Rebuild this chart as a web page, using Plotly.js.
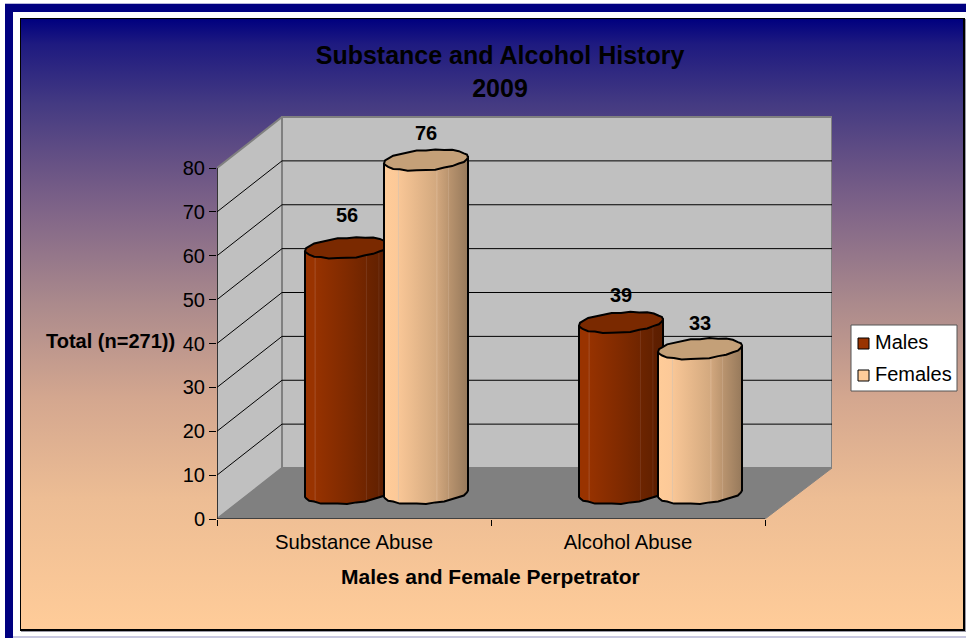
<!DOCTYPE html>
<html><head><meta charset="utf-8">
<script src="https://cdn.plot.ly/plotly-3.0.1.min.js"></script>
<style>
html,body{margin:0;padding:0;background:#fff;overflow:hidden;width:966px;height:638px}
#navyTop{position:absolute;left:5px;top:3px;width:961px;height:8px;background:#000080;border-top:1px solid #b8b8dc;box-sizing:content-box}
#navyLeft{position:absolute;left:5px;top:4px;width:8px;height:634px;background:#000080}
#edge{position:absolute;left:13px;top:636px;width:953px;height:2px;background:#c8c8e0}
#bg{position:absolute;left:20px;top:18px;width:942px;height:610px;border:1px solid #000;border-right-width:2px;border-bottom-width:2px;
background:linear-gradient(to bottom,#00007f 0px,#1e1a80 25px,#443a82 85px,#6a5485 150px,#7f6488 190px,#ab8a8c 285px,#d4a78f 380px,#edbd94 480px,#ffcc99 610px);
box-shadow:1px 1px 0 #9a9aa8}
#plot{position:absolute;left:0;top:0;width:966px;height:638px}
</style></head><body>
<div id="navyTop"></div><div id="navyLeft"></div><div id="edge"></div><div id="bg"></div><div id="plot"></div>
<script>
const categories = ['Substance Abuse', 'Alcohol Abuse'];
const males = [56, 39];
const females = [76, 33];
const seriesNames = ['Males', 'Females'];
const yTicks = [0, 10, 20, 30, 40, 50, 60, 70, 80];
const titleText = 'Substance and Alcohol History<br>2009';
const yTitle = 'Total (n=271))';
const xTitle = 'Males and Female Perpetrator';

// scale of the oblique 3D box
const PX = 274, PY = 4.3875;          // pixels per x unit / per y unit
const depthX = 65 / PX, depthY = 51 / PY;
const xMax = 615 / PX, yMax = 403 / PY;
const halfW = 42 / PX, ellB = 10 / PY, ellS = 3 / PY, offset = 39.5 / PX;
const labelLift = [[31, 25], [25, 24]];
const rimWobble = [0, 0.3, -0.4, 0.3, 0.5, -0.3, 0.2, -0.5, 0.4, 0.1, -0.4, 0.5, -0.2, 0.3, -0.5, 0.4, 0.2, -0.3, 0.5, -0.4, 0.1, 0.4, -0.5, 0.3, -0.1, 0.4, -0.3, 0.2, 0];
const FONT = 'Liberation Sans, Arial, sans-serif';

const shapes = [];
function poly(pts, fill, lineColor, w) {
  const path = pts.map((p, i) => (i ? 'L' : 'M') + p[0] + ',' + p[1]).join(' ') + ' Z';
  shapes.push({type:'path', path, xref:'x', yref:'y', layer:'below', fillcolor:fill,
    line:{color:lineColor, width:w}});
}
poly([[depthX,depthY],[depthX,80+depthY],[xMax,80+depthY],[xMax,depthY]], '#c0c0c0', '#808080', 2);
poly([[0,0],[0,80],[depthX,80+depthY],[depthX,depthY]], '#c0c0c0', '#808080', 2);
poly([[0,0],[depthX,depthY],[xMax,depthY],[2,0]], '#808080', '#808080', 1);
yTicks.slice(1, -1).forEach(v => {
  shapes.push({type:'line', xref:'x', yref:'y', layer:'below', x0:0, y0:v, x1:depthX, y1:v+depthY, line:{color:'#000', width:1}});
  shapes.push({type:'line', xref:'x', yref:'y', layer:'below', x0:depthX, y0:v+depthY, x1:xMax, y1:v+depthY, line:{color:'#000', width:1}});
});

function ell(cx, cy, from, to, n) {
  const out = [];
  for (let i = 0; i <= n; i++) {
    const t = from + (to - from) * i / n;
    const w = rimWobble[i % rimWobble.length] / PY;
    out.push([cx + halfW * Math.cos(t), cy + ellB * Math.sin(t) + ellS * Math.cos(t) + w]);
  }
  return out;
}
function cylinder(name, cat, value, sign, scale, topColor) {
  const cx = cat + 0.5 + sign * offset + depthX / 2, base = depthY / 2, top = value + base;
  const lower = ell(cx, base, 0, -Math.PI, 14);
  const body = [[cx - halfW, top - ellS], [cx + halfW, top + ellS]].concat(lower);
  body.push(body[0]);
  const topE = ell(cx, top, 0, 2 * Math.PI, 28);
  return [{
    type:'scatter', mode:'lines', name, showlegend:false, hoverinfo:'skip',
    x:body.map(p => p[0]), y:body.map(p => p[1]), fill:'toself',
    fillgradient:{type:'horizontal', colorscale:scale, start:cx - halfW, stop:cx + halfW},
    line:{color:'#000', width:2}
  }, {
    type:'scatter', mode:'lines', name, showlegend:false, hoverinfo:'skip',
    x:topE.map(p => p[0]), y:topE.map(p => p[1]), fill:'toself', fillcolor:topColor,
    line:{color:'#000', width:2}
  }];
}
const maleScale = [[0,'#993300'],[0.11,'#993300'],[0.12,'#a85530'],[0.13,'#963200'],[0.5,'#7f2a00'],[0.72,'#702500'],[0.73,'#7c3a1c'],[0.74,'#6c2400'],[0.87,'#642100'],[0.88,'#703418'],[0.89,'#601f00'],[1,'#5a1e00']];
const femaleScale = [[0,'#ffcc99'],[0.16,'#fcc998'],[0.17,'#dcc4ac'],[0.18,'#f8c696'],[0.62,'#d3a97f'],[0.63,'#dcb896'],[0.64,'#d0a67d'],[0.76,'#bc9670'],[0.77,'#c6a484'],[0.78,'#b8936e'],[1,'#96795b']];
const traces = [];
categories.forEach((_, i) => {
  traces.push(...cylinder(seriesNames[0], i, males[i], -1, maleScale, '#7a2900'));
  traces.push(...cylinder(seriesNames[1], i, females[i], 1, femaleScale, '#c4a078'));
});
// axis lines
traces.push({type:'scatter', mode:'lines', x:[0,0], y:[0,80], line:{color:'#000',width:1.2}, showlegend:false, hoverinfo:'skip'});
traces.push({type:'scatter', mode:'lines', x:[0,2], y:[0,0], line:{color:'#000',width:1.2}, showlegend:false, hoverinfo:'skip'});
// value labels
[males, females].forEach((arr, s) => {
  traces.push({type:'scatter', mode:'text', showlegend:false, hoverinfo:'skip',
    x:arr.map((_, i) => i + 0.5 + (s ? 1 : -1) * offset + depthX / 2),
    y:arr.map((v, i) => v + depthY / 2 + labelLift[s][i] / PY),
    text:arr.map(String), textposition:'middle center',
    textfont:{family:FONT, size:20, color:'#000', weight:700}});
});

// legend box
const paperX = p => (p - 217) / 615, paperY = p => (519 - p) / 403;
shapes.push({type:'rect', xref:'paper', yref:'paper', x0:paperX(851), x1:paperX(957), y0:paperY(391), y1:paperY(325),
  fillcolor:'#fff', line:{color:'#555', width:1}});
shapes.push({type:'rect', xref:'paper', yref:'paper', x0:paperX(858), x1:paperX(869), y0:paperY(349), y1:paperY(338),
  fillcolor:'#993300', line:{color:'#000', width:1}});
shapes.push({type:'rect', xref:'paper', yref:'paper', x0:paperX(858), x1:paperX(869), y0:paperY(381), y1:paperY(370),
  fillcolor:'#ffcc99', line:{color:'#000', width:1}});

const annotations = [
  {text:seriesNames[0], x:paperX(873), y:paperY(342), xref:'paper', yref:'paper', xanchor:'left', yanchor:'middle', showarrow:false, font:{family:FONT,size:20,color:'#000'}},
  {text:seriesNames[1], x:paperX(873), y:paperY(374), xref:'paper', yref:'paper', xanchor:'left', yanchor:'middle', showarrow:false, font:{family:FONT,size:20,color:'#000'}},
  {text:'<b>'+yTitle+'</b>', x:paperX(110), y:paperY(341), xref:'paper', yref:'paper', xanchor:'center', yanchor:'middle', showarrow:false, font:{family:FONT,size:20,color:'#000'}},
  {text:'<b>'+xTitle+'</b>', x:paperX(490), y:paperY(576), xref:'paper', yref:'paper', xanchor:'center', yanchor:'middle', showarrow:false, font:{family:FONT,size:21,color:'#000'}}
];

const layout = {
  width:966, height:638, autosize:false,
  margin:{l:217, r:134, t:116, b:119, pad:0},
  paper_bgcolor:'rgba(0,0,0,0)', plot_bgcolor:'rgba(0,0,0,0)',
  showlegend:false,
  title:{text:'<b>'+titleText+'</b>', x:500/966, xanchor:'center', y:1-64/638, yanchor:'top', xref:'container', yref:'container',
    font:{family:FONT, size:25, color:'#000'}},
  xaxis:{range:[0,xMax], showgrid:false, zeroline:false, showline:false,
    tickmode:'array', tickvals:[0.5,1.5], ticktext:categories, ticks:'', ticklen:0,
    tickfont:{family:FONT,size:20.3,color:'#000'}, ticklabelstandoff:9,
    minor:{tickmode:'array', tickvals:[0,1,2], ticks:'outside', ticklen:6, tickwidth:1, tickcolor:'#000', showgrid:false}},
  yaxis:{range:[0,yMax], showgrid:false, zeroline:false, showline:false,
    tickmode:'array', tickvals:yTicks, ticks:'outside', ticklen:7, tickwidth:1, tickcolor:'#000',
    tickfont:{family:FONT,size:20,color:'#000'}},
  shapes, annotations
};
Plotly.newPlot('plot', traces, layout, {displayModeBar:false, staticPlot:true});
</script>
</body></html>
